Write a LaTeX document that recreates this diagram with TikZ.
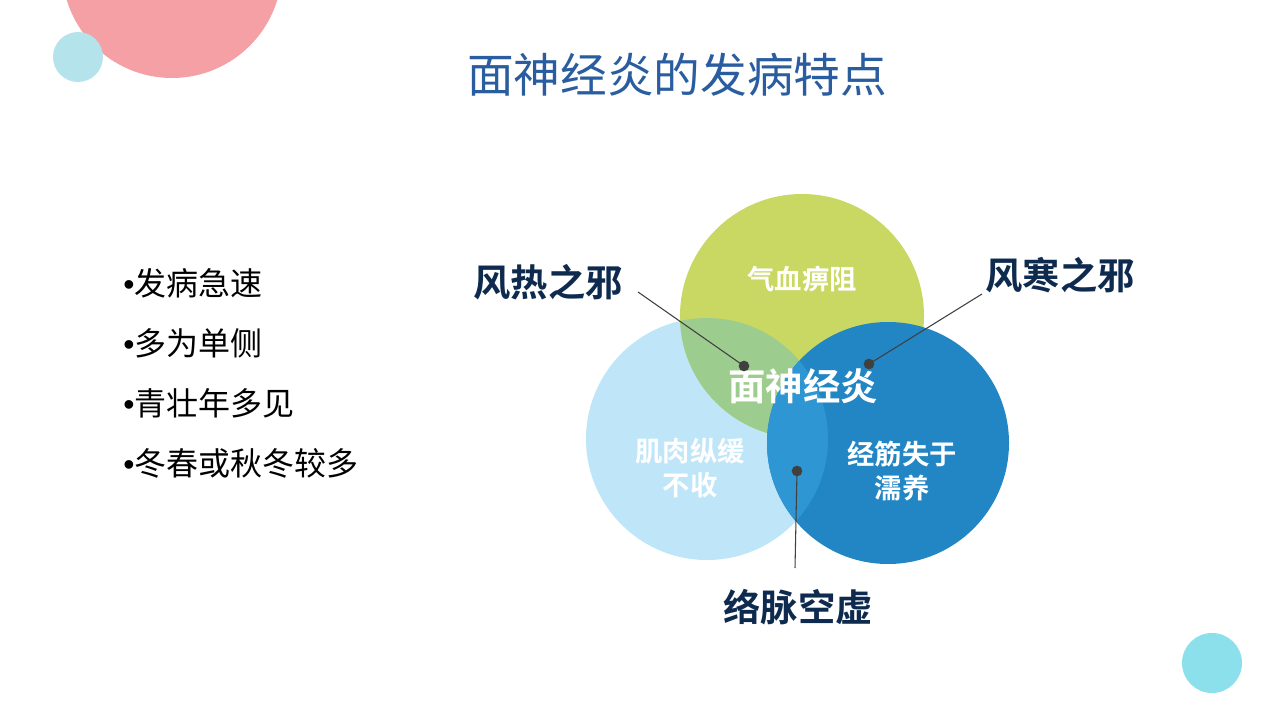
\documentclass[tikz,border=0pt]{standalone}
\usepackage{fontspec}
\setmainfont{Noto Sans CJK SC}[BoldFont={Noto Sans CJK SC Bold}]
\newfontfamily\latinfont{Liberation Sans}
\usetikzlibrary{positioning}
\definecolor{pinkdeco}{HTML}{F4A0A4}
\definecolor{cyandeco}{HTML}{B5E3EB}
\definecolor{cyandecob}{HTML}{8CE0EB}
\definecolor{titleblue}{HTML}{2A5D9F}
\definecolor{leafgreen}{HTML}{C9D862}
\definecolor{skyblue}{HTML}{BEE6F8}
\definecolor{deepblue}{HTML}{2285C4}
\definecolor{mixgreen}{HTML}{9DCC8F}
\definecolor{mixblue}{HTML}{2F96D4}
\definecolor{navy}{HTML}{0E2B4F}
\definecolor{pointer}{HTML}{404040}
\newcommand{\bul}{{\latinfont •}}
\tikzset{
    % Outer cause labels
    cause/.style={font=\fontsize{28}{32}\selectfont\bfseries, text=navy},
    % Labels inside the circles
    inner text/.style={font=\fontsize{20.5}{26}\selectfont\bfseries, text=white, align=center},
    % Bullet points
    bullet/.style={font=\fontsize{24}{28}\selectfont, anchor=west, inner sep=0pt},
    % Pointer lines and their dots
    pointline/.style={draw=pointer, line width=0.8pt},
    dot/.style={circle, fill=pointer, inner sep=0pt, minimum size=8pt}
}
\begin{document}
\begin{tikzpicture}[x=0.75pt,y=-0.75pt]
    \useasboundingbox (0,0) rectangle (1280,720);
    \begin{scope}
        \clip (0,0) rectangle (1280,720);
        % Decorations
        \fill[pinkdeco] (172,-32) circle (110);
        \fill[cyandeco] (78,57) circle (25);
        \fill[cyandecob] (1212,663) circle (30);
    \end{scope}

    % Title
    \node[font=\fontsize{35}{40}\selectfont, text=titleblue] (title) at (677,75) {面神经炎的发病特点};

    % Bullets
    \node[bullet] (b1) at (123,283) {\bul 发病急速};
    \node[bullet] (b2) at (123,343) {\bul 多为单侧};
    \node[bullet] (b3) at (123,403) {\bul 青壮年多见};
    \node[bullet] (b4) at (123,463) {\bul 冬春或秋冬较多};

    % Circles
    \fill[skyblue] (707,439) circle (121);
    \fill[leafgreen] (802,316) circle (122);
    \begin{scope}
        \clip (707,439) circle (121);
        \fill[mixgreen] (802,316) circle (122);
    \end{scope}
    \fill[deepblue] (888,443) circle (121);
    \begin{scope}
        \clip (707,439) circle (121);
        \fill[mixblue] (888,443) circle (121);
    \end{scope}

    % Circle texts
    \node[inner text] (qixue) at (802,279) {气血痹阻};
    \node[inner text] (jirou) at (690,468) {肌肉纵缓\\不收};
    \node[inner text] (jingjin) at (902,471) {经筋失于\\濡养};
    \node[font=\fontsize{28}{32}\selectfont\bfseries, text=white] (center) at (803,386) {面神经炎};

    % Causes
    \node[cause] (fengre) at (548,282) {风热之邪};
    \node[cause] (fenghan) at (1060,275) {风寒之邪};
    \node[cause] (luomai) at (798,607) {络脉空虚};

    \node[dot] (d1) at (744,366) {};
    \node[dot] (d2) at (869,364) {};
    \node[dot] (d3) at (797,471) {};
    \coordinate (p1) at (638,292);
    \coordinate (p2) at (982,294);
    \coordinate (p3) at (795,568);
    \draw[pointline] (p1) -- (d1.center);
    \draw[pointline] (p2) -- (d2.center);
    \draw[pointline] (p3) -- (d3.center);
\end{tikzpicture}
\end{document}
